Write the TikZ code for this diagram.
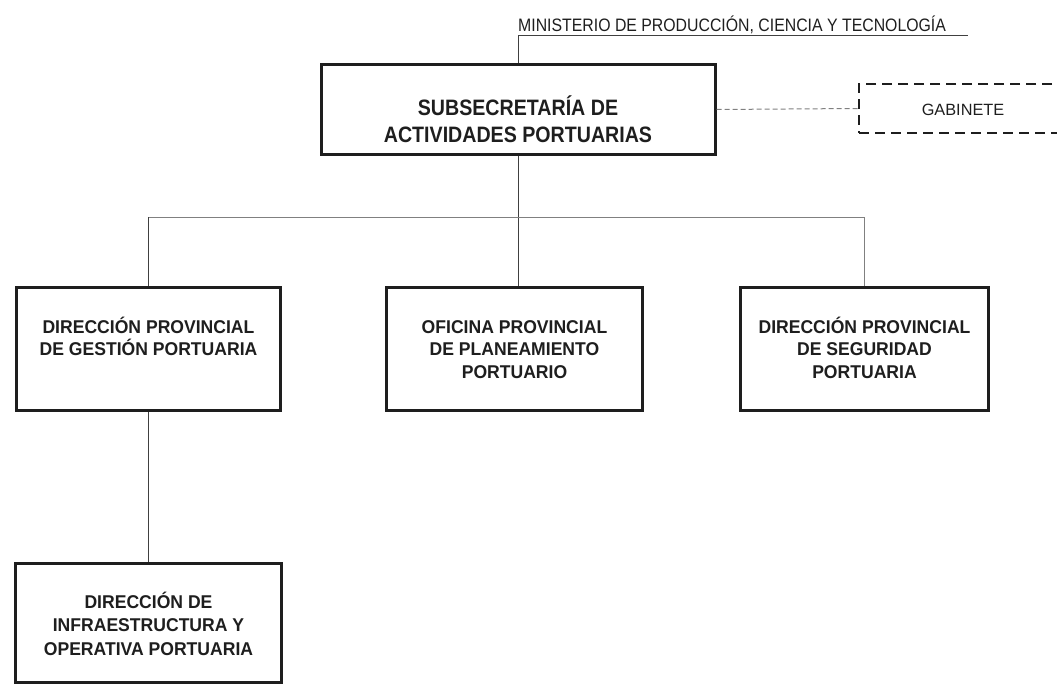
\documentclass[tikz,border=0pt]{standalone}
\usepackage{fontspec}
\setmainfont{Liberation Sans}
\newfontfamily\hdrfont{Liberation Sans}[FakeStretch=0.88]
\newfontfamily\boxfont{Liberation Sans}[FakeStretch=0.95]
\definecolor{ink}{HTML}{1E1E1E}
\definecolor{conn}{HTML}{404040}
\definecolor{lconn}{HTML}{808080}
\tikzset{
  unitbox/.style={draw=ink, line width=3pt, inner sep=0pt},
  gabbox/.style={draw=ink, line width=2.7pt, dash pattern=on 10pt off 6pt, inner sep=0pt},
  txt/.style={inner sep=0pt, align=center, anchor=base, text=ink},
  hdrtxt/.style={txt, font=\hdrfont\bfseries\fontsize{22.3}{27}\selectfont},
  boxtxt/.style={txt, font=\boxfont\bfseries\fontsize{18.5}{22.5}\selectfont},
  link/.style={draw=conn, line width=1pt},
  lightlink/.style={draw=lconn, line width=1pt},
  dashlink/.style={draw=lconn, line width=1pt, dash pattern=on 5pt off 3pt}
}
\begin{document}
\begin{tikzpicture}[x=1pt,y=-1pt]
\useasboundingbox (0,0) rectangle (1057,685);
% boxes
\node[unitbox, minimum width=394pt, minimum height=90pt] (s) at (518,109.5) {};
\node[gabbox, minimum width=208pt, minimum height=49pt] (g) at (963,108.5) {};
\node[unitbox, minimum width=264pt, minimum height=123pt] (b1) at (148.5,349) {};
\node[unitbox, minimum width=256pt, minimum height=123pt] (b2) at (514.5,349) {};
\node[unitbox, minimum width=248pt, minimum height=123pt] (b3) at (864.5,349) {};
\node[unitbox, minimum width=266pt, minimum height=119pt] (b4) at (148.5,623) {};
% texts
\node[txt, anchor=base west, font=\hdrfont\fontsize{18}{20}\selectfont] (min) at (518,31.5) {MINISTERIO DE PRODUCCIÓN, CIENCIA Y TECNOLOGÍA};
\node[hdrtxt] (s-t) at (518,142) {SUBSECRETARÍA DE\\ACTIVIDADES PORTUARIAS};
\node[txt, font=\fontsize{16.3}{19}\selectfont] (g-t) at (963,115) {GABINETE};
\node[boxtxt] (b1-t) at (148.5,355.5) {DIRECCIÓN PROVINCIAL\\DE GESTIÓN PORTUARIA};
\node[boxtxt] (b2-t) at (514.5,378) {OFICINA PROVINCIAL\\DE PLANEAMIENTO\\PORTUARIO};
\node[boxtxt] (b3-t) at (864.5,378) {DIRECCIÓN PROVINCIAL\\DE SEGURIDAD\\PORTUARIA};
\node[boxtxt, font=\boxfont\bfseries\fontsize{18.5}{23.5}\selectfont] (b4-t) at (148.5,655) {DIRECCIÓN DE\\INFRAESTRUCTURA Y\\OPERATIVA PORTUARIA};
% connectors
\coordinate (minR) at (968,35.5);
\coordinate (bus) at (518,217);
\draw[link] (s.north) -- (s.north |- minR) -- (minR);
\draw[link] (s.south) -- (s.south |- b2.north);
\draw[lightlink] (b1.north |- bus) -- (b3.north |- bus) -- (b3.north);
\draw[link] (b1.north) -- (b1.north |- bus);
\draw[link] (b1.south) -- (b4.north);
\draw[dashlink] (s.east) -- (g.west);
\end{tikzpicture}
\end{document}
